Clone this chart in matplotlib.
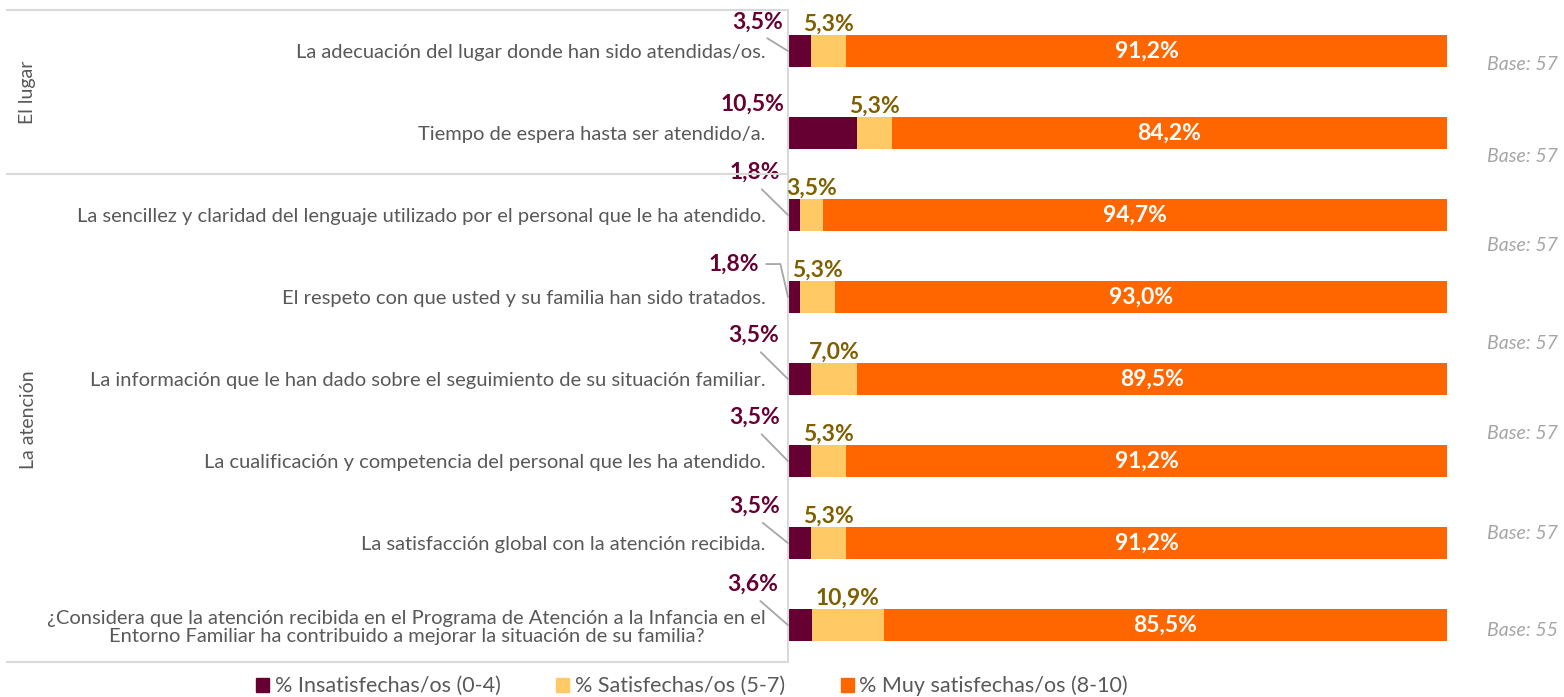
"""
Satisfacción con el lugar y la atención - barras apiladas al 100%
"""
import matplotlib
matplotlib.use("Agg")
import matplotlib.pyplot as plt
from matplotlib.lines import Line2D
from matplotlib.patches import Patch
from matplotlib.transforms import blended_transform_factory

plt.rcParams['font.family'] = ['Lato', 'DejaVu Sans']

# --- data ---
categories = [
    "La adecuación del lugar donde han sido atendidas/os.",
    "Tiempo de espera hasta ser atendido/a.",
    "La sencillez y claridad del lenguaje utilizado por el personal que le ha atendido.",
    "El respeto con que usted y su familia han sido tratados.",
    "La información que le han dado sobre el seguimiento de su situación familiar.",
    "La cualificación y competencia del personal que les ha atendido.",
    "La satisfacción global con la atención recibida.",
    "¿Considera que la atención recibida en el Programa de Atención a la Infancia en el\n"
    "Entorno Familiar ha contribuido a mejorar la situación de su familia?",
]
insatisfechas = [3.5, 10.5, 1.8, 1.8, 3.5, 3.5, 3.5, 3.6]
satisfechas = [5.3, 5.3, 3.5, 5.3, 7.0, 5.3, 5.3, 10.9]
muy_satisfechas = [91.2, 84.2, 94.7, 93.0, 89.5, 91.2, 91.2, 85.5]
series_names = ["% Insatisfechas/os (0-4)", "% Satisfechas/os (5-7)",
                "% Muy satisfechas/os (8-10)"]
groups = ["El lugar", "La atención"]
group_rows = [(0, 1), (2, 7)]
base_n = [57, 57, 57, 57, 57, 57, 55]

# --- style ---
c_insat = '#660033'
c_sat = '#FFC966'
c_muy = '#FF6600'
c_sat_lbl = '#7F6000'
c_text = '#595959'
c_grid = '#D9D9D9'
c_base = '#A6A6A6'

W, H = 1564, 697
fig = plt.figure(figsize=(W / 100, H / 100), dpi=100)
ax = fig.add_axes([788 / W, 1 - 662 / H, (1447 - 788) / W, (662 - 10) / H])

y = list(range(len(categories)))
left2 = [a for a in insatisfechas]
left3 = [a + b for a, b in zip(insatisfechas, satisfechas)]
bh = 0.40
ax.barh(y, insatisfechas, height=bh, color=c_insat)
ax.barh(y, satisfechas, left=left2, height=bh, color=c_sat)
ax.barh(y, muy_satisfechas, left=left3, height=bh, color=c_muy)

ax.set_xlim(0, 100)
ax.set_ylim(7.45, -0.5)
ax.set_xticks([])
ax.set_yticks(y)
ax.set_yticklabels(categories, fontsize=14.5, color=c_text, linespacing=1.1)
ax.tick_params(axis='y', length=0, pad=16)
for lab in ax.get_yticklabels():
    lab.set_multialignment('center')
for s in ['top', 'right', 'bottom']:
    ax.spines[s].set_visible(False)
ax.spines['left'].set_color(c_grid)
ax.spines['left'].set_linewidth(1.5)


def fmt(v):
    return f"{v:.1f}".replace('.', ',') + '%'


# white labels in the big segment
for i in y:
    ax.text(left3[i] + muy_satisfechas[i] / 2, i, fmt(muy_satisfechas[i]),
            ha='center', va='center', color='white', fontsize=16.5, fontweight='bold')

# yellow-segment labels just above the bar
for i in y:
    ax.annotate(fmt(satisfechas[i]), xy=(left2[i] + satisfechas[i] / 2, i - bh / 2),
                xytext=(0, 0), textcoords='offset pixels',
                ha='center', va='bottom', color=c_sat_lbl, fontsize=16.5, fontweight='bold')

# purple labels, moved up-left with leader lines (pixel offsets from bar start)
insat_off = [(-30, 29), (-36, 29), (-33, 43), (-54, 33),
             (-34, 44), (-33, 44), (-33, 37), (-35, 41)]
for i in y:
    dx, dy = insat_off[i]
    if i == 1:
        arrow = None
    elif i == 3:
        arrow = dict(arrowstyle='-', color=c_base, lw=1.3, relpos=(1, 0.5),
                     shrinkA=3, shrinkB=0,
                     connectionstyle="angle,angleA=0,angleB=103,rad=0")
    else:
        arrow = dict(arrowstyle='-', color=c_base, lw=1.3, relpos=(0.5, 0),
                     shrinkA=4, shrinkB=0)
    ax.annotate(fmt(insatisfechas[i]), xy=(0, i), xytext=(dx, dy),
                textcoords='offset pixels', ha='center', va='center',
                color=c_insat, fontsize=16.5, fontweight='bold',
                arrowprops=arrow, annotation_clip=False)

# base labels on the right
base_rows = [0.17, 1.29, 2.37, 3.57, 4.66, 5.88, 7.06]
bt = blended_transform_factory(fig.transFigure, ax.transData)
for n, r in zip(base_n, base_rows):
    ax.text(1522 / W, r, f"Base: {n}", transform=bt, ha='center', va='center',
            fontsize=14, style='italic', color=c_base)

# group frame and labels
for yy in [-0.5, 1.5, 7.45]:
    fig.add_artist(Line2D([7 / W, 788 / W], [yy, yy], transform=bt,
                          color=c_grid, lw=1.5))
for g, (a, b) in zip(groups, group_rows):
    ax.text(28 / W, (a + b) / 2, g, transform=bt, rotation=90, ha='center',
            va='center', fontsize=14, color=c_text)

# legend
handles = [Patch(color=c) for c in [c_insat, c_sat, c_muy]]
fig.legend(handles, series_names, loc='center', bbox_to_anchor=(692 / W, 1 - 686 / H),
           ncol=3, frameon=False, fontsize=15.5, labelcolor=c_text,
           handlelength=0.6, handleheight=0.6, handletextpad=0.25, columnspacing=2.6)

fig.savefig('out.png', dpi=100)
